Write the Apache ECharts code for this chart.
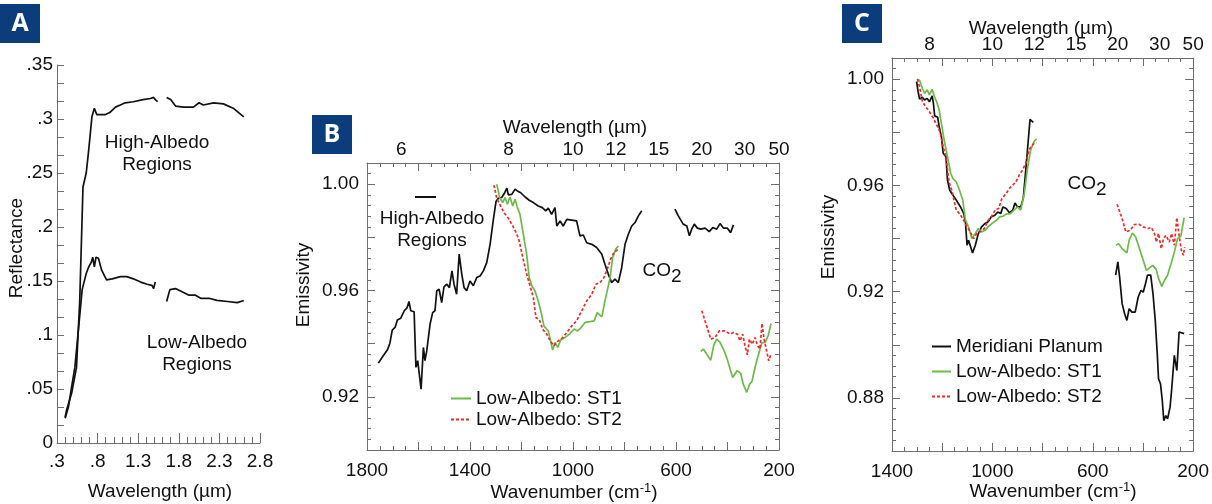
<!DOCTYPE html>
<html>
<head>
<meta charset="utf-8">
<script src="https://cdn.jsdelivr.net/npm/echarts@6/dist/echarts.min.js"></script>
<style>html,body{margin:0;padding:0;background:#fff}#chart{width:1212px;height:504px}</style>
</head>
<body>
<div id="chart"></div>
<script>
// panel A: wavelength (um) vs reflectance, null = gap in the curve
var aHigh = [[0.40,0.024],[0.42,0.031],[0.48,0.046],[0.54,0.070],[0.58,0.132],[0.62,0.237],[0.66,0.250],[0.69,0.271],[0.73,0.302],[0.76,0.310],[0.79,0.304],[0.83,0.304],[0.89,0.304],[0.95,0.306],[1.02,0.311],[1.08,0.313],[1.14,0.315],[1.24,0.316],[1.36,0.318],[1.45,0.319],[1.49,0.320],[1.51,0.318],[1.54,0.316],null,
  [1.65,0.320],[1.70,0.318],[1.76,0.312],[1.86,0.311],[1.98,0.311],[2.05,0.315],[2.10,0.313],[2.23,0.315],[2.35,0.314],[2.47,0.310],[2.60,0.302]];
var aLow = [[0.40,0.023],[0.44,0.033],[0.48,0.052],[0.52,0.070],[0.56,0.102],[0.61,0.142],[0.63,0.148],[0.66,0.157],[0.69,0.163],[0.72,0.167],[0.74,0.172],[0.76,0.163],[0.78,0.172],[0.81,0.171],[0.85,0.160],[0.91,0.151],[0.98,0.152],[1.08,0.154],[1.16,0.154],[1.24,0.152],[1.33,0.149],[1.41,0.147],[1.47,0.146],[1.49,0.143],[1.51,0.149],null,
  [1.65,0.131],[1.69,0.142],[1.76,0.143],[1.84,0.140],[1.92,0.137],[2.00,0.137],[2.07,0.134],[2.17,0.134],[2.27,0.132],[2.40,0.131],[2.52,0.130],[2.60,0.132]];
var aXTicks = [0.3, 0.8, 1.3, 1.8, 2.3, 2.8];

// panel B: wavenumber (cm-1) vs emissivity
var bHigh = [[1756,.9327],[1737,.9355],[1721,.9376],[1711,.9402],[1702,.9451],[1691,.9461],[1682,.9489],[1669,.9496],[1655,.9524],[1644,.9536],
  [1637,.9559],[1630,.9524],[1617,.952],[1610,.9311],[1603,.9336],[1597,.9286],[1590,.9229],[1581,.9386],[1575,.9336],[1568,.9373],
  [1555,.9474],[1545,.9517],[1536,.9524],[1529,.9599],[1520,.9605],[1510,.9555],[1501,.9614],[1490,.9624],[1480,.9611],[1470,.9674],
  [1462,.9624],[1452,.9586],[1442,.9737],[1432,.9662],[1423,.9611],[1413,.9599],[1400,.9636],[1387,.9618],[1374,.9649],[1361,.9655],
  [1348,.9674],[1335,.9705],[1322,.9774],[1310,.9862],[1299,.9935],[1290,.9947],[1277,.995],[1267,.9965],[1257,.9985],[1251,.996],
  [1238,.9962],[1225,.9981],[1216,.9975],[1203,.9968],[1186,.9952],[1170,.994],[1154,.9931],[1135,.9918],[1119,.9912],[1106,.99],
  [1096,.991],[1083,.9887],[1070,.9912],[1063,.9843],[1050,.9862],[1038,.9843],[1024,.9868],[1005,.9865],[986,.9862],[973,.9806],
  [960,.9809],[947,.978],[927,.9774],[908,.9762],[888,.9737],[876,.9699],[863,.9662],[850,.963],[837,.9643],[824,.963],
  [811,.9686],[798,.9774],[785,.9812],[772,.9843],[759,.9856],[746,.9881],[733,.99],null,
  [604,.9906],[591,.9881],[572,.985],[558,.9843],[548,.9806],[539,.9831],[529,.985],[517,.9835],[504,.9831],[487,.9835],
  [471,.9822],[457,.9837],[442,.9831],[429,.9852],[416,.9835],[401,.9835],[388,.9818],[377,.9847]];
var bST1 = [[1296,1.0],[1284,.9947],[1273,.9931],[1264,.995],[1255,.9925],[1245,.9952],[1234,.9918],[1225,.9944],[1216,.9912],[1206,.9887],
  [1193,.9812],[1180,.9737],[1170,.9649],[1160,.9618],[1148,.9599],[1135,.9561],[1122,.9511],[1113,.9467],[1096,.9448],[1087,.9411],
  [1079,.9376],[1070,.9405],[1059,.9386],[1048,.9414],[1031,.9423],[1012,.9438],[996,.9455],[983,.9448],[970,.9459],[953,.948],
  [934,.9483],[918,.9486],[906,.9517],[888,.9501],[876,.9561],[867,.9599],[856,.9649],[846,.9724],[834,.9756],[824,.9768],null,
  [504,.9371],[494,.938],[481,.9361],[465,.9338],[454,.9392],[442,.9417],[429,.9405],[416,.938],[401,.9342],[390,.9305],
  [380,.9273],[363,.9298],[349,.9289],[339,.9248],[325,.9217],[314,.9248],[305,.9258],[292,.9315],[279,.9361],[267,.9403],
  [254,.9405],[242,.943],[231,.9476]];
var bST2 = [[1307,.9997],[1296,.9947],[1281,.9918],[1268,.9893],[1251,.9872],[1234,.9843],[1219,.9814],[1209,.9787],[1195,.9724],[1180,.9662],
  [1167,.9618],[1154,.9574],[1144,.9498],[1131,.9492],[1118,.9455],[1102,.9436],[1089,.9411],[1074,.9392],[1057,.9411],[1040,.9423],
  [1024,.9442],[1005,.9467],[986,.9486],[966,.9524],[947,.9561],[927,.9586],[911,.9624],[895,.963],[880,.9649],[867,.968],
  [854,.9718],[841,.9743],[824,.9756],null,
  [500,.9524],[481,.9467],[465,.9417],[449,.9423],[432,.9448],[410,.9448],[390,.9436],[377,.9442],[362,.9436],[351,.9411],
  [341,.9436],[332,.9392],[323,.9358],[315,.9417],[304,.9398],[293,.9423],[283,.9392],[274,.938],[266,.9476],[258,.9417],
  [248,.9373],[240,.9336],[231,.9361]];

// panel C
var cMer = [[1302,.9991],[1296,.9953],[1290,.9925],[1279,.9932],[1270,.9922],[1260,.9928],[1251,.9915],[1240,.9937],[1235,.9909],[1230,.9862],
  [1218,.9857],[1212,.9821],[1203,.9783],[1196,.9721],[1185,.9708],[1179,.962],[1170,.9582],[1157,.9563],[1144,.9545],[1127,.9519],
  [1114,.9494],[1107,.9457],[1101,.9375],[1095,.9394],[1088,.9387],[1079,.9346],[1068,.9375],[1056,.9419],[1043,.9444],[1029,.9457],
  [1017,.9463],[1004,.9482],[990,.9488],[978,.95],[967,.9494],[958,.9519],[945,.9513],[932,.9497],[919,.9507],[910,.9534],
  [900,.9519],[887,.9519],[877,.9551],[867,.9658],[858,.9758],[850,.9849],[837,.9838],null,
  [509,.9262],[500,.9312],[493,.9255],[483,.9155],[473,.9117],[464,.9092],[455,.9136],[444,.9123],[431,.9123],[419,.918],
  [408,.9205],[399,.9198],[390,.923],[382,.9262],[369,.9262],[360,.9192],[351,.9092],[343,.8966],[338,.8872],[330,.8853],
  [323,.879],[317,.8714],[309,.8733],[302,.8721],[292,.8765],[286,.8828],[275,.896],[265,.8903],[256,.9048],[249,.9054],[236,.9042]];
var cST1 = [[1300,1.0],[1290,.9996],[1279,.9966],[1270,.9947],[1260,.996],[1251,.9941],[1240,.9962],[1231,.9934],[1222,.9915],[1212,.9884],
  [1201,.9821],[1192,.9771],[1179,.9708],[1166,.9645],[1157,.9626],[1144,.9614],[1131,.9582],[1118,.9545],[1107,.9469],[1095,.9444],
  [1082,.94],[1068,.9419],[1056,.9438],[1043,.9425],[1029,.9431],[1017,.9444],[1001,.9457],[984,.9469],[971,.9482],[958,.9484],
  [945,.9492],[928,.9494],[912,.9509],[900,.9519],[887,.9507],[873,.957],[861,.9658],[848,.9733],[834,.9765],[824,.9776],null,
  [507,.9375],[497,.9381],[483,.9362],[464,.9346],[455,.9394],[442,.9421],[429,.9406],[416,.9368],[399,.9318],[386,.928],
  [373,.9291],[360,.9299],[347,.9283],[338,.9249],[325,.922],[314,.9243],[302,.9262],[288,.9306],[275,.9349],[262,.94],
  [249,.9409],[236,.9479]];
var cST2 = [[1299,1.0],[1290,.9972],[1279,.9915],[1266,.9897],[1251,.9878],[1235,.9853],[1222,.9828],[1209,.9802],[1196,.9746],[1185,.9708],
  [1173,.9614],[1160,.9576],[1144,.9507],[1131,.9494],[1114,.9469],[1105,.945],[1088,.9425],[1075,.94],[1062,.9419],[1049,.9425],
  [1032,.9438],[1017,.9469],[1004,.9482],[988,.9509],[975,.9513],[962,.9551],[945,.957],[932,.9589],[919,.9601],[906,.9614],
  [893,.9639],[880,.9658],[867,.9683],[854,.9733],[845,.9748],[834,.9758],[824,.9761],null,
  [503,.9529],[483,.9475],[468,.9425],[451,.9431],[434,.9453],[416,.9454],[399,.9444],[380,.9438],[366,.9442],[353,.9416],
  [347,.9387],[338,.9419],[327,.9362],[318,.94],[308,.9412],[295,.9387],[286,.9419],[275,.9375],[265,.9479],[256,.9412],
  [247,.9356],[239,.9337],[234,.9368]];

// top axis: wavelength labels (um) placed at 10000/um
var bTopUm = [6, 8, 10, 12, 15, 20, 30, 50];
var cTopUm = [8, 10, 12, 15, 20, 30, 50];
var bYLabels = [0.92, 0.96, 1.00];
var cYLabels = [0.88, 0.92, 0.96, 1.00];

var FONT = '"Liberation Sans", Arial, sans-serif';
var AX = '#6e6e6e';
var TXT = '#111';
var BLACK = '#111', GREEN = '#6cbb48', RED = '#ee2a2a';

var chart = echarts.init(document.getElementById('chart'));

function pts(arr) {
  return arr.map(function (p) { return p ? p : ['-', '-']; });
}
function dotFmt(v) {
  var s = String(+(+v).toFixed(2));
  return s.replace(/^0\./, '.');
}
function pick(list) {
  return function (v) {
    for (var i = 0; i < list.length; i++) {
      if (Math.abs(v - list[i]) < 1e-6) return list[i].toFixed(2);
    }
    return '';
  };
}
function lbl(o) {
  return Object.assign({ color: TXT, fontSize: 19, fontFamily: FONT }, o);
}
function line() {
  return { show: true, onZero: false, lineStyle: { color: AX, width: 1 } };
}
function tick(len, extra) {
  return Object.assign({ show: true, inside: true, length: len, lineStyle: { color: AX } }, extra);
}
function minor(n, len) {
  return { show: true, splitNumber: n, length: len, lineStyle: { color: AX } };
}
function wnAxis(grid, pos, min, max, label) {
  return {
    gridIndex: grid, type: 'value', position: pos, min: min, max: max, interval: 200, inverse: true,
    axisLine: line(), axisTick: tick(8), minorTick: minor(4, 4),
    axisLabel: label, splitLine: { show: false }
  };
}
function emAxis(grid, pos, min, labels) {
  return {
    gridIndex: grid, type: 'value', position: pos, min: min, max: 1.008, interval: 0.02,
    axisLine: line(), axisTick: tick(8), minorTick: minor(5, 4),
    axisLabel: labels ? lbl({ margin: 8, formatter: pick(labels) }) : { show: false },
    splitLine: { show: false }
  };
}
function topLabel(list) {
  return lbl({
    margin: 4,
    customValues: list.map(function (u) { return 10000 / u; }),
    formatter: function (v) { return String(Math.round(10000 / v)); }
  });
}
function bottomLabel(v) {
  return (Math.round(v) - 200) % 400 === 0 ? String(Math.round(v)) : '';
}
function ser(name, data, color, xi, yi, dash) {
  return {
    name: name, type: 'line', xAxisIndex: xi, yAxisIndex: yi, data: pts(data),
    symbol: 'none', connectNulls: false, animation: false,
    lineStyle: { color: color, width: 1.7, type: dash || 'solid' },
    itemStyle: { color: color }
  };
}
function txt(x, y, s, extra) {
  var el = {
    type: 'text', x: x, y: y,
    style: {
      text: s, fill: TXT, fontSize: 19, fontFamily: FONT,
      align: 'center', verticalAlign: 'middle', textAlign: 'center', textVerticalAlign: 'middle', lineHeight: 22
    }
  };
  if (extra && extra.rotation) el.rotation = extra.rotation;
  if (extra && extra.rich) el.style.rich = extra.rich;
  return el;
}
function badge(x, y, s) {
  return [
    { type: 'rect', shape: { x: x, y: y, width: 40, height: 39 }, style: { fill: '#0b3d7c' } },
    { type: 'text', x: x + 20, y: y + 20, style: { text: s, fill: '#fff', fontSize: 25, fontWeight: 'bold', fontFamily: '"Open Sans", sans-serif', align: 'center', verticalAlign: 'middle', textAlign: 'center', textVerticalAlign: 'middle' } }
  ];
}
function legendAt(names, left, top, w, gap) {
  return {
    data: names, orient: 'vertical', left: left, top: top,
    itemWidth: w, itemHeight: 10, itemGap: gap, selectedMode: false,
    itemStyle: { opacity: 0 },
    textStyle: { fontSize: 19, color: TXT, fontFamily: FONT }
  };
}

var supRich = { sup: { fontSize: 13, fontFamily: FONT, fill: TXT, verticalAlign: 'top' } };
var coRich = { co: { fontSize: 19, fontFamily: FONT, lineHeight: 19, verticalAlign: 'top' },
               sub: { fontSize: 19, fontFamily: FONT, lineHeight: 25, verticalAlign: 'bottom' } };

chart.setOption({
  animation: false,
  grid: [
    { left: 57, top: 65, width: 203, height: 378 },
    { left: 367, top: 163, width: 412, height: 287 },
    { left: 892, top: 58, width: 307, height: 393 }
  ],
  xAxis: [
    { gridIndex: 0, type: 'value', position: 'bottom', min: 0.3, max: 2.8, interval: 0.1,
      axisLine: line(), axisTick: tick(6), axisLabel: { show: false }, splitLine: { show: false } },
    { gridIndex: 0, type: 'value', position: 'bottom', min: 0.3, max: 2.8,
      axisLine: { show: false }, axisTick: tick(10, { customValues: aXTicks }),
      axisLabel: lbl({ margin: 9, customValues: aXTicks, formatter: dotFmt }), splitLine: { show: false } },
    wnAxis(1, 'bottom', 200, 1800, lbl({ margin: 11, formatter: bottomLabel })),
    wnAxis(1, 'top', 200, 1800, topLabel(bTopUm)),
    wnAxis(2, 'bottom', 200, 1400, lbl({ margin: 11, formatter: bottomLabel })),
    wnAxis(2, 'top', 200, 1400, topLabel(cTopUm))
  ],
  yAxis: [
    { gridIndex: 0, type: 'value', min: 0, max: 0.35, interval: 0.05,
      axisLine: line(), axisTick: tick(7), minorTick: minor(3, 7),
      axisLabel: lbl({ margin: 4, formatter: dotFmt }), splitLine: { show: false } },
    emAxis(1, 'left', 0.9, bYLabels),
    emAxis(1, 'right', 0.9, null),
    emAxis(2, 'left', 0.86, cYLabels),
    emAxis(2, 'right', 0.86, null)
  ],
  legend: [
    legendAt(['Low-Albedo: ST1', 'Low-Albedo: ST2'], 445, 384, 20, 2),
    legendAt(['Meridiani Planum', 'Low-Albedo: ST1', 'Low-Albedo: ST2'], 926, 332, 19, 6)
  ],
  series: [
    ser('High-Albedo', aHigh, BLACK, 0, 0),
    ser('Low-Albedo', aLow, BLACK, 0, 0),
    ser('High-Albedo Regions', bHigh, BLACK, 2, 1),
    ser('Low-Albedo: ST1', bST1, GREEN, 2, 1),
    ser('Low-Albedo: ST2', bST2, RED, 2, 1, [3, 2]),
    ser('Meridiani Planum', cMer, BLACK, 4, 3),
    ser('Low-Albedo: ST1', cST1, GREEN, 4, 3),
    ser('Low-Albedo: ST2', cST2, RED, 4, 3, [3, 2])
  ],
  graphic: [].concat(
    badge(0, 4, 'A'), badge(312, 115, 'B'), badge(842, 4, 'C'),
    [
      txt(17, 248, 'Reflectance', { rotation: Math.PI / 2 }),
      txt(160, 492, 'Wavelength (µm)'),
      txt(157, 154, 'High-Albedo\nRegions'),
      txt(197, 354, 'Low-Albedo\nRegions'),
      txt(304, 285, 'Emissivity', { rotation: Math.PI / 2 }),
      txt(575, 128, 'Wavelength (µm)'),
      txt(574, 493, 'Wavenumber (cm{sup|-1})', { rich: supRich }),
      { type: 'line', shape: { x1: 415, y1: 197, x2: 436, y2: 197 }, style: { stroke: BLACK, lineWidth: 2 } },
      txt(432, 230, 'High-Albedo\nRegions'),
      txt(662, 274, '{co|CO}{sub|2}', { rich: coRich }),
      txt(829, 237, 'Emissivity', { rotation: Math.PI / 2 }),
      txt(1041, 29, 'Wavelength (µm)'),
      txt(1053, 492, 'Wavenumber (cm{sup|-1})', { rich: supRich }),
      txt(1087, 187, '{co|CO}{sub|2}', { rich: coRich })
    ]
  )
});
</script>
</body>
</html>
